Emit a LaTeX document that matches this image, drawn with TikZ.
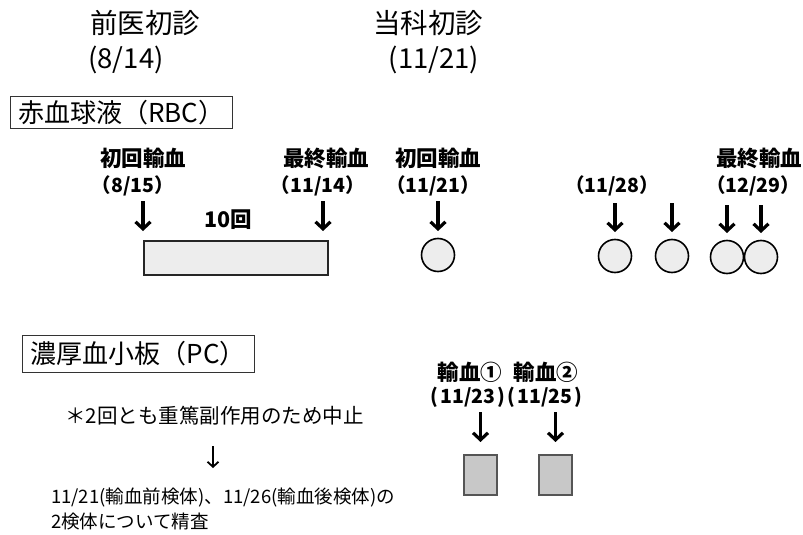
\documentclass[tikz,border=0pt]{standalone}
\usepackage{fontspec}
\setmainfont{Noto Sans CJK JP}
\usetikzlibrary{arrows.meta}
\definecolor{rbcfill}{HTML}{EDEDED}
\definecolor{pcfill}{HTML}{C8C8C8}
\definecolor{pcdraw}{HTML}{555555}
\tikzset{
  hdr/.style={font=\fontsize{27.5}{30}\selectfont, inner sep=0pt, anchor=center},
  lab/.style={font=\fontsize{21.5}{24}\selectfont\bfseries, inner sep=0pt, anchor=center},
  labd/.style={font=\fontsize{19.5}{22}\selectfont\bfseries, inner sep=0pt, anchor=center},
  note/.style={inner sep=0pt},
  secbox/.style={draw=black!80, line width=0.8pt, inner sep=0pt, anchor=north west},
  sectext/.style={font=\fontsize{26}{28}\selectfont, inner sep=0pt},
  arr/.style={line width=3.2pt, -{Straight Barb[length=7pt,width=15pt,line width=3.2pt]}},
  rbcdot/.style={circle, draw=black, line width=1.6pt, fill=rbcfill, minimum size=33pt, inner sep=0pt},
  pcbox/.style={draw=pcdraw, line width=2pt, fill=pcfill, inner sep=0pt},
}
\begin{document}
\begin{tikzpicture}[x=1pt,y=-1pt]
\useasboundingbox (0,0) rectangle (803,535);
% headers
\node[hdr] (h1) at (145,23) {前医初診};
\node[hdr] (h1d) at (126,60) {(8/14)};
\node[hdr] (h2) at (428,23) {当科初診};
\node[hdr] (h2d) at (434,60) {(11/21)};
% RBC box
\node[secbox, minimum width=222pt, minimum height=32pt] (rbc) at (10,96) {};
\node[sectext] (rbct) at (rbc.center) {赤血球液（RBC）};
% RBC labels
\node[lab] (l1) at (143,158) {初回輸血};
\node[labd] (l1d) at (133,186) {（8/15）};
\node[lab] (l2) at (326,158) {最終輸血};
\node[labd] (l2d) at (318,186) {（11/14）};
\node[lab] (l3) at (438,158) {初回輸血};
\node[labd] (l3d) at (433,186) {（11/21）};
\node[labd] (l4d) at (612,186) {（11/28）};
\node[lab] (l5) at (759,158) {最終輸血};
\node[labd] (l5d) at (753,186) {（12/29）};
\node[lab] (ten) at (228,220) {10回};
% RBC bar
\node[draw=black!85, line width=1.5pt, fill=rbcfill, minimum width=184pt, minimum height=34pt, inner sep=0pt, anchor=north west] (bar) at (143,240) {};
% circles
\node[rbcdot] (c1) at (438,255) {};
\node[rbcdot] (c2) at (615,256) {};
\node[rbcdot] (c3) at (672,256) {};
\node[rbcdot] (c4) at (727,257) {};
\node[rbcdot] (c5) at (761,257) {};
% arrows RBC
\coordinate (a1s) at (143,201); \coordinate (a1e) at (143,231);
\coordinate (a2s) at (323,201); \coordinate (a2e) at (323,231);
\draw[arr] (a1s) -- (a1e);
\draw[arr] (a2s) -- (a2e);
\draw[arr] ([yshift=54pt]c1.center) -- ([yshift=24pt]c1.center);
\draw[arr] ([yshift=53pt]c2.center) -- ([yshift=24pt]c2.center);
\draw[arr] ([yshift=53pt]c3.center) -- ([yshift=24pt]c3.center);
\draw[arr] ([yshift=52pt]c4.center) -- ([yshift=24pt]c4.center);
\draw[arr] ([yshift=52pt]c5.center) -- ([yshift=24pt]c5.center);
% PC box
\node[secbox, minimum width=232pt, minimum height=37pt] (pc) at (22,335) {};
\node[sectext] (pct) at (pc.center) {濃厚血小板（PC）};
\node[note, font=\fontsize{20.5}{24}\selectfont, anchor=west] (n1) at (65,416) {＊2回とも重篤副作用のため中止};
\coordinate (ns) at (213,446); \coordinate (ne) at (213,468);
\draw[line width=1.8pt, -{Straight Barb[length=5pt,width=11pt,line width=1.8pt]}] (ns) -- (ne);
\node[note, font=\fontsize{18.5}{22}\selectfont, anchor=west] (n2) at (51,497) {11/21(輸血前検体)、11/26(輸血後検体)の};
\node[note, font=\fontsize{18.5}{22}\selectfont, anchor=west] (n3) at (51,522) {2検体について精査};
% PC transfusions
\node[lab] (p1) at (470,372) {輸血①};
\node[labd] (p1d) at (468,397) {(\kern2pt11/23\kern2pt)};
\node[lab] (p2) at (546,372) {輸血②};
\node[labd] (p2d) at (545,397) {(\kern2pt11/25\kern2pt)};
\node[pcbox, minimum width=33pt, minimum height=40pt, anchor=north west] (r1) at (463,454) {};
\node[pcbox, minimum width=33pt, minimum height=40pt, anchor=north west] (r2) at (538,454) {};
\draw[arr] ([yshift=42pt]r1.north) -- ([yshift=12pt]r1.north);
\draw[arr] ([yshift=42pt]r2.north) -- ([yshift=12pt]r2.north);
\end{tikzpicture}
\end{document}
